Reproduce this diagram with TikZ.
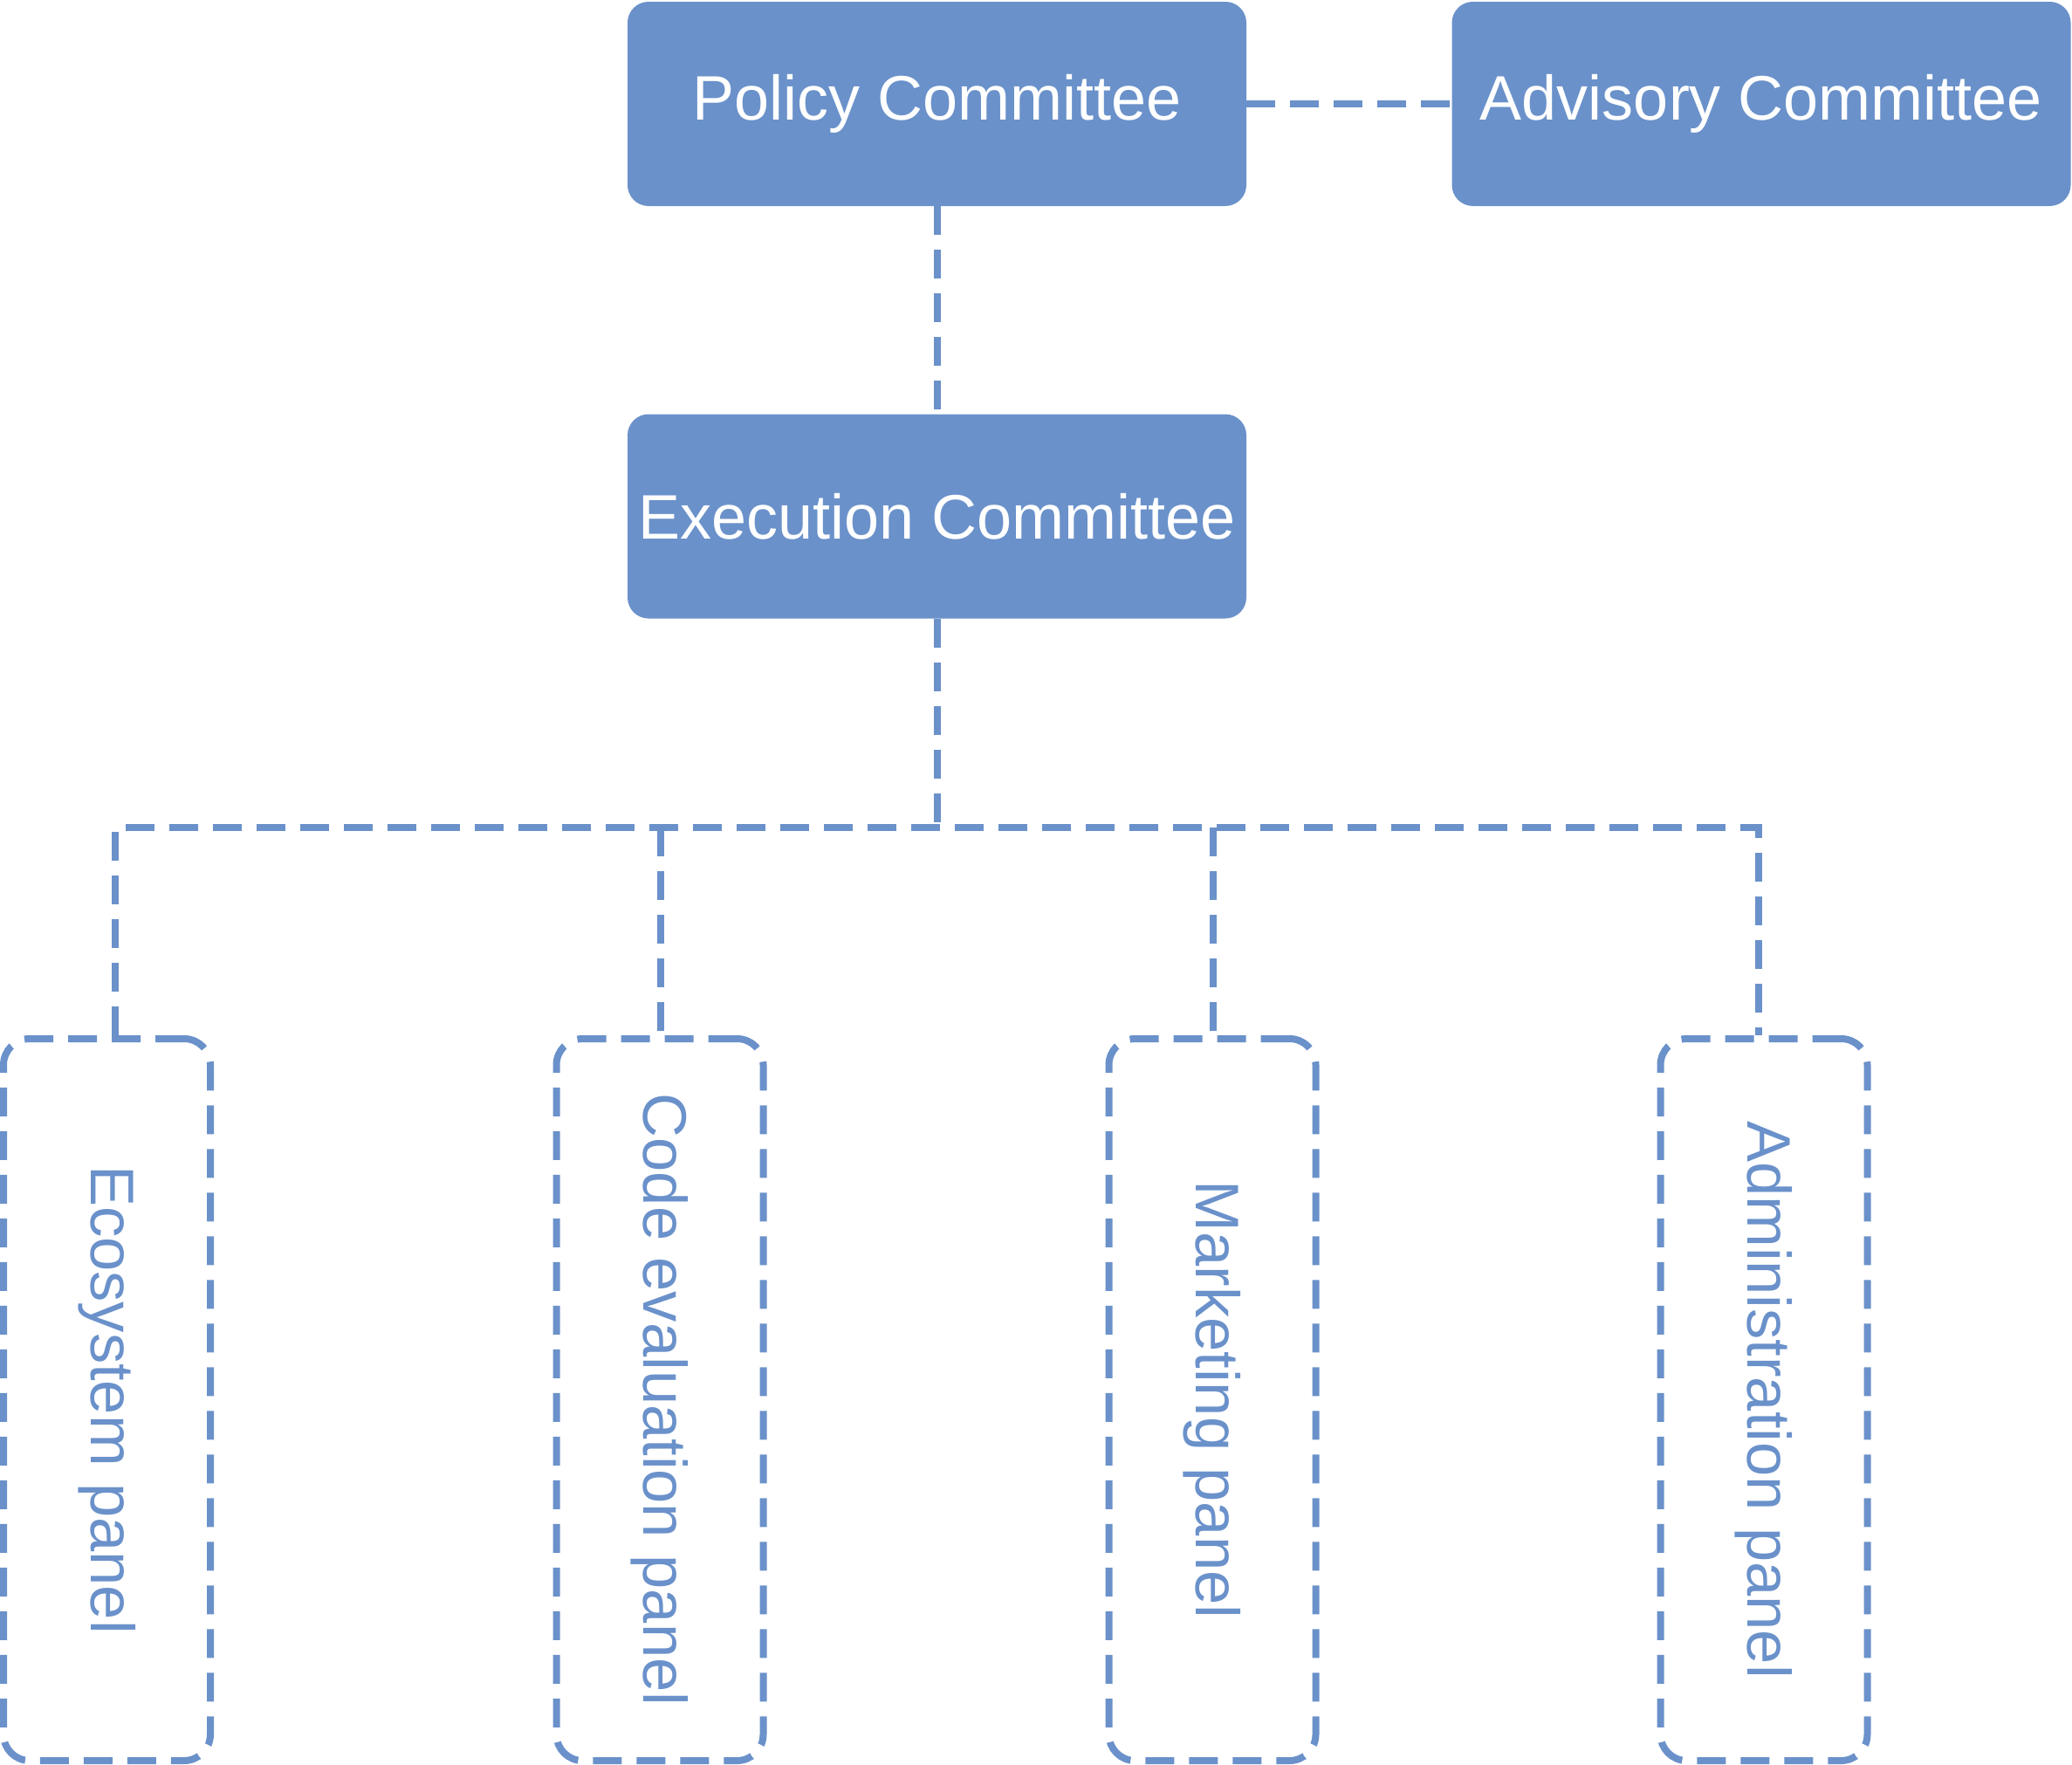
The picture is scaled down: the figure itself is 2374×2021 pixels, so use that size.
\documentclass[tikz,border=0pt]{standalone}
\usepackage{fontspec}
\setmainfont{Liberation Sans}
\definecolor{cblue}{RGB}{106,145,202}
\begin{document}
\begin{tikzpicture}[x=1pt,y=-1pt,
 commbox/.style={fill=cblue, rounded corners=24pt, minimum width=709pt, minimum height=234pt, inner sep=0pt, text=white, font=\fontsize{72}{86}\selectfont},
 panelbox/.style={draw=cblue, line width=8pt, dash pattern=on 33pt off 17pt, rounded corners=30pt, minimum width=237pt, minimum height=827pt, inner sep=0pt},
 paneltext/.style={text=cblue, rotate=-90, font=\fontsize{70.5}{84}\selectfont},
 link/.style={draw=cblue, line width=8pt, dash pattern=on 33pt off 17pt}]
\useasboundingbox (0,0) rectangle (2374,2021);
\node[commbox] (pol) at (1073.5,119) {\raisebox{-4pt}{Policy Committee}};
\node[commbox] (adv) at (2018,119) {\raisebox{-4pt}{Advisory Committee}};
\node[commbox] (exe) at (1073.5,591.5) {Execution Committee};
\node[panelbox] (eco) at (122.5,1603.5) {};
\node[panelbox] (code) at (756,1603.5) {};
\node[panelbox] (mkt) at (1389,1603.5) {};
\node[panelbox] (adm) at (2021,1603.5) {};
\node[paneltext] (ecot) at (eco.center) {Ecosystem panel};
\node[paneltext] (codet) at (code.center) {Code evaluation panel};
\node[paneltext] (mktt) at (mkt.center) {Marketing panel};
\node[paneltext] (admt) at (adm.center) {Administration panel};
\coordinate (bus) at (1073.5,948);
\coordinate (b1) at (132,948);
\coordinate (b2) at (757,948);
\coordinate (b3) at (1390,948);
\coordinate (b4) at (2015,948);
\draw[link] (pol.east) -- (adv.west);
\draw[link] (pol.south) -- (exe.north);
\draw[link] (exe.south) -- (bus);
\draw[link] (b1 |- eco.north) -- (b1) -- (b4) -- (b4 |- adm.north);
\draw[link] (b2) -- (b2 |- code.north);
\draw[link] (b3) -- (b3 |- mkt.north);
\end{tikzpicture}
\end{document}
